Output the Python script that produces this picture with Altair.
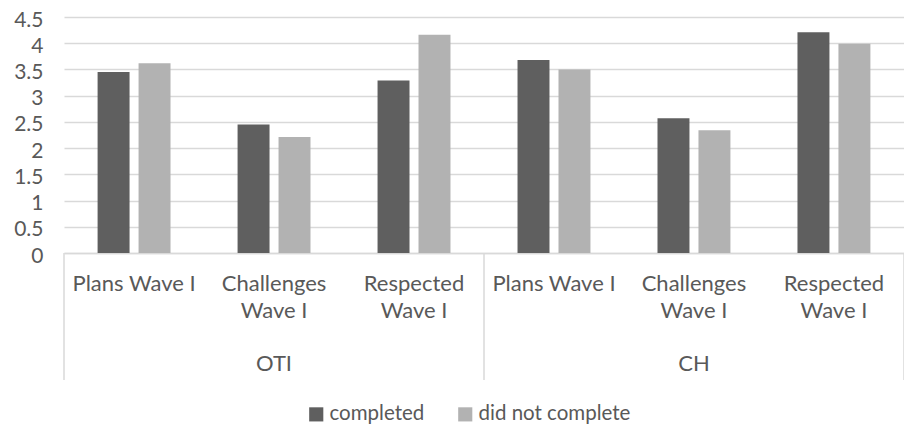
import altair as alt
import pandas as pd

groups = ["OTI", "OTI", "OTI", "CH", "CH", "CH"]
labels = ["Plans Wave I", "Challenges~Wave I", "Respected~Wave I",
          "Plans Wave I", "Challenges~Wave I", "Respected~Wave I"]
series_names = ["completed", "did not complete"]
completed = [3.45, 2.45, 3.29, 3.68, 2.57, 4.21]
not_complete = [3.62, 2.21, 4.16, 3.50, 2.34, 3.99]

group_names = ["OTI", "CH"]
group_mid = [1.5, 4.5]
boundaries = [0, 3, 6]
y_ticks = [0, 0.5, 1, 1.5, 2, 2.5, 3, 3.5, 4, 4.5]

keys = [f"{g}|{l}" for g, l in zip(groups, labels)]
rows = []
for k, a, b in zip(keys, completed, not_complete):
    rows.append({"key": k, "series": series_names[0], "value": a})
    rows.append({"key": k, "series": series_names[1], "value": b})
df = pd.DataFrame(rows)

FONT = "Lato"
FS = 22
TXT = "#595959"
GRID = "#d9d9d9"

bars = alt.Chart(df).mark_bar().encode(
    x=alt.X("key:N", sort=keys,
            scale=alt.Scale(paddingInner=0.479, paddingOuter=0.24),
            axis=alt.Axis(title=None, labelExpr="split(split(datum.label, '|')[1], '~')",
                          labelAngle=0, ticks=False, domainColor=GRID, domainWidth=1.5,
                          labelFontSize=FS, labelColor=TXT, labelFont=FONT,
                          labelPadding=20, labelLineHeight=27)),
    xOffset=alt.XOffset("series:N", sort=series_names,
                        scale=alt.Scale(paddingInner=0.22, paddingOuter=0)),
    y=alt.Y("value:Q", scale=alt.Scale(domain=[0, 4.5], nice=False),
            axis=alt.Axis(title=None, values=y_ticks, format=".1~f", ticks=False, domain=False,
                          gridColor=GRID, gridWidth=1.4, labelFontSize=21, labelOffset=3,
                          labelColor=TXT, labelFont=FONT, labelPadding=21)),
    color=alt.Color("series:N", sort=series_names,
                    scale=alt.Scale(domain=series_names, range=["#5f5f5f", "#b2b2b2"]),
                    legend=alt.Legend(title=None, orient="none", legendX=242, legendY=387,
                                      direction="horizontal", symbolType="square",
                                      symbolSize=200, symbolStrokeWidth=0,
                                      labelFontSize=20.5, labelColor=TXT, labelFont=FONT,
                                      labelLimit=400, columnPadding=30, labelOffset=3)),
)

bdf = pd.DataFrame({"b": boundaries})
seps = alt.Chart(bdf).mark_rule(color=GRID, strokeWidth=1.5).encode(
    x=alt.X("b:Q", scale=alt.Scale(domain=[0, 6], nice=False, zero=False), axis=None),
    y=alt.value(236), y2=alt.value(363),
)

gdf = pd.DataFrame({"g": group_names, "m": group_mid})
glabels = alt.Chart(gdf).mark_text(font=FONT, fontSize=FS, color=TXT, baseline="middle").encode(
    x=alt.X("m:Q", scale=alt.Scale(domain=[0, 6], nice=False, zero=False), axis=None),
    y=alt.value(347),
    text="g:N",
)

chart = alt.layer(bars, seps, glabels).resolve_scale(x="independent").properties(
    width=840, height=236,
    autosize=alt.AutoSizeParams(type="none"),
    padding={"left": 56, "top": 9, "right": 0, "bottom": 171},
).configure_view(stroke=None)

chart.save("out.html", embed_options={"renderer": "svg", "actions": False})
